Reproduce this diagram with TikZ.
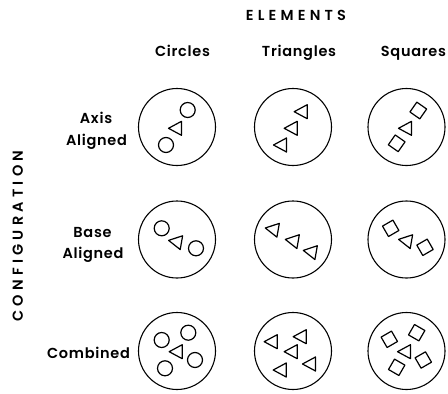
\documentclass[tikz,border=0pt]{standalone}
\usepackage{fontspec}
\setmainfont{Poppins}
\newfontfamily\capsfont{Poppins SemiBold}[LetterSpace=29]
\newfontfamily\lowfont{Poppins SemiBold}[LetterSpace=5]
\begin{document}
\begin{tikzpicture}[x=1pt,y=-1pt,
  big/.style={line width=1.1pt},
  el/.style={line width=1.2pt, line join=round},
  lab/.style={font=\lowfont\fontsize{14.5}{16}\selectfont, inner sep=0pt, anchor=base},
  caps/.style={font=\capsfont\fontsize{14.5}{16}\selectfont, inner sep=0pt},
  ci/.pic={\draw[el] (0,0) circle (7.5);},
  tri/.pic={\draw[el] (-7.5,0) -- (5.5,-7) -- (5.5,7) -- cycle;},
  sq/.pic={\draw[el] (-6,-6) rectangle (6,6);}
]
\useasboundingbox (0,0) rectangle (448,394);
% headings
\node[caps, anchor=base] (elements) at (296,20.5) {ELEMENTS};
\node[lab] (hc) at (182.5,56) {Circles};
\node[lab] (ht) at (299,56) {Triangles};
\node[lab] (hs) at (413.5,56) {Squares};
\node[caps, rotate=90, anchor=base] (config) at (23,236) {CONFIGURATION};
\node[lab] (raxis) at (96,123) {Axis};
\node[lab] (raxis2) at (96.5,145) {Aligned};
\node[lab] (rbase) at (92.5,237) {Base};
\node[lab] (rbase2) at (93,258) {Aligned};
\node[lab] (rcomb) at (88.5,358) {Combined};
% big circles
\foreach \cx/\cy [count=\i] in {177/127,293/127,406.5/127,177/239.5,293/239.5,406.5/239.5,177/351,293/351,406.5/351}
  \draw[big] (\cx,\cy) circle (38.5);
% row 1: axis aligned
\pic at (187.7,110) {ci};
\pic at (176,128.3) {tri};
\pic at (166,145) {ci};
\pic at (301.7,111.7) {tri};
\pic at (291.7,128.3) {tri};
\pic at (281,145) {tri};
\pic[rotate=-35] at (418.3,110.5) {sq};
\pic at (406,128.3) {tri};
\pic[rotate=-35] at (396.7,143.3) {sq};
% row 2: base aligned
\pic at (161.7,228.3) {ci};
\pic[rotate=-10] at (176,241.7) {tri};
\pic at (196,248.3) {ci};
\pic[rotate=-10] at (272.7,229.3) {tri};
\pic[rotate=-10] at (292.7,240.7) {tri};
\pic[rotate=-10] at (310.7,251.7) {tri};
\pic[rotate=30] at (390.7,228.3) {sq};
\pic[rotate=-10] at (406,240.7) {tri};
\pic[rotate=30] at (425,247.3) {sq};
% row 3: combined
\pic at (161.7,340) {ci};
\pic at (188.3,332.7) {ci};
\pic at (195,360) {ci};
\pic at (165,368.3) {ci};
\pic at (176.7,351.7) {tri};
\pic at (271.7,341.7) {tri};
\pic at (300.7,336.7) {tri};
\pic at (291.7,351.7) {tri};
\pic at (310,364) {tri};
\pic at (280.7,370) {tri};
\pic[rotate=30] at (389.3,339.3) {sq};
\pic[rotate=-30] at (416.7,332.7) {sq};
\pic[rotate=30] at (423.3,360) {sq};
\pic[rotate=-30] at (396.7,367.3) {sq};
\pic at (405,351.7) {tri};
\end{tikzpicture}
\end{document}
